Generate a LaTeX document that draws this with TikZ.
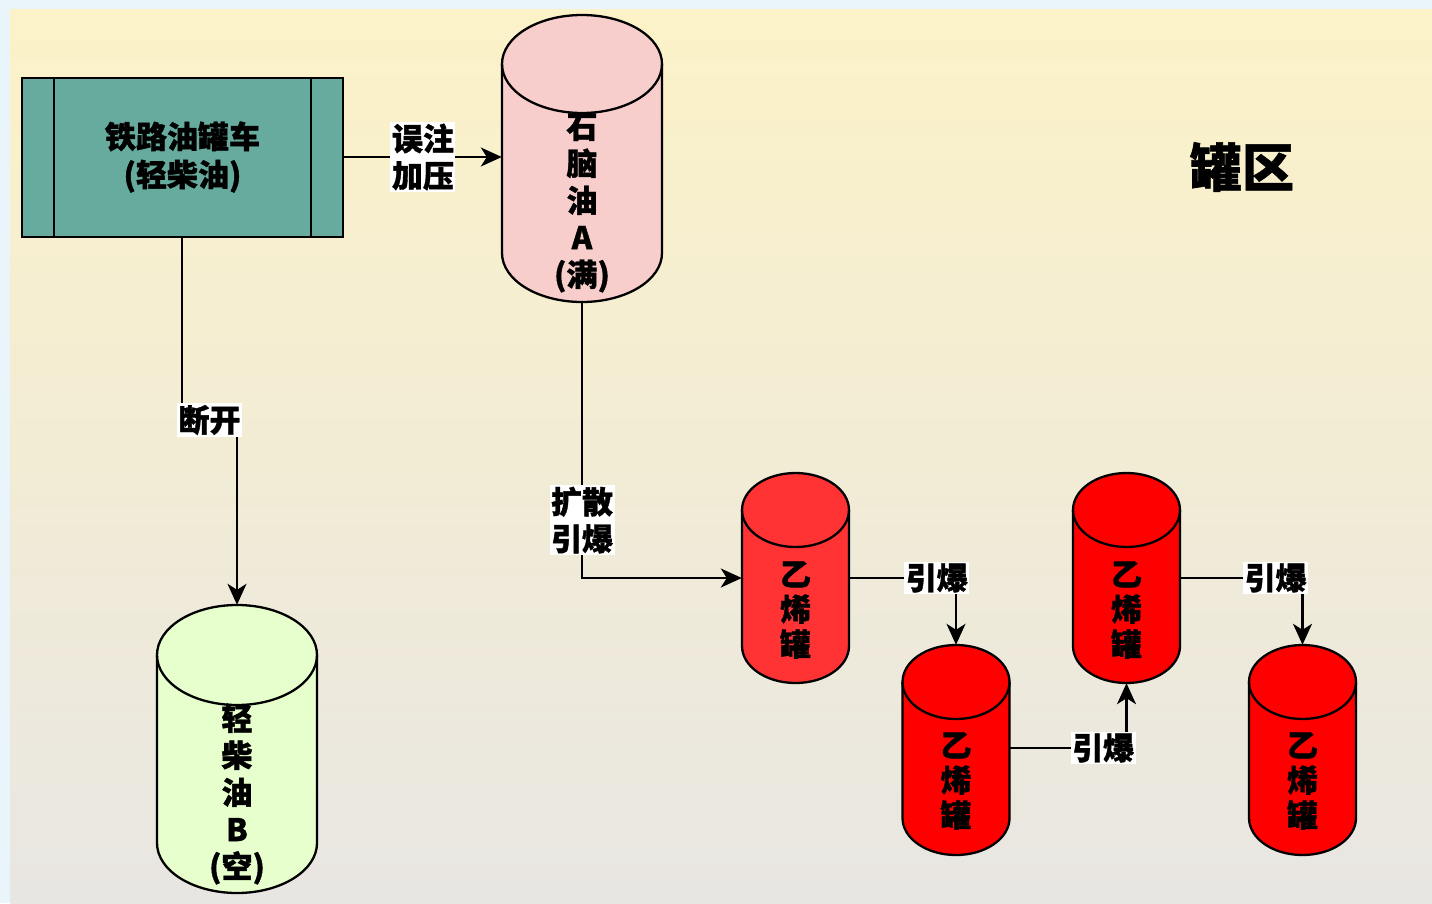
\documentclass[tikz,border=0pt]{standalone}
\usepackage{fontspec}
\usetikzlibrary{arrows.meta}
\newfontfamily\cjk{Noto Sans CJK SC}[BoldFeatures={FakeBold=1.2}]
\definecolor{bgblue}{HTML}{EAF4FB}
\definecolor{bgtop}{HTML}{FCF2C8}
\definecolor{bgbot}{HTML}{E8E6E2}
\definecolor{teal}{HTML}{67AB9F}
\definecolor{pinkA}{HTML}{F8CECC}
\definecolor{greenB}{HTML}{E6FFCC}
\definecolor{redlight}{HTML}{FF3333}
\definecolor{redfull}{HTML}{FF0000}
\newcommand\drawtank[7]{%
  \path[draw=black, line width=2.3pt, fill=#7]
    (#2-#5, -#3-#6) -- (#2-#5, -#4+#6)
    arc[start angle=180, end angle=360, x radius=#5, y radius=#6]
    -- (#2+#5, -#3-#6)
    arc[start angle=0, end angle=180, x radius=#5, y radius=#6] -- cycle;
  \draw[line width=2.3pt] (#2-#5, -#3-#6)
    arc[start angle=180, end angle=360, x radius=#5, y radius=#6];
  \node[inner sep=0pt, minimum width=2*#5, minimum height=#4-#3] (#1) at (#2, -#3/2-#4/2) {};
}
\tikzset{
  txt/.style={font=\cjk\bfseries\fontsize{31}{37}\selectfont, align=center, inner sep=0pt, text=black},
  tanktxt/.style={txt},
  lbl/.style={txt, fill=white, inner sep=1.5pt},
  conn/.style={line width=2.2pt, draw=black},
  arr/.style={conn, -{Stealth[length=21pt, width=19pt, inset=6pt]}},
}
\begin{document}
\begin{tikzpicture}[x=1pt, y=1pt]
\useasboundingbox (0,0) rectangle (1432,-903);
\fill[bgblue] (0,0) rectangle (1432,-903);
\shade[top color=bgtop, bottom color=bgbot] (10,-9) rectangle (1432,-903);

% railway car
\node[draw=black, line width=2.3pt, fill=teal, minimum width=321pt, minimum height=159pt, inner sep=0pt] (car) at (182.5,-157.5) {};
\draw[line width=2.3pt] ([xshift=33pt]car.north west) -- ([xshift=33pt]car.south west);
\draw[line width=2.3pt] ([xshift=-33pt]car.north east) -- ([xshift=-33pt]car.south east);
\node[txt, font=\cjk\bfseries\fontsize{31}{38}\selectfont] (cartxt) at (182.5,-157) {铁路油罐车\\(轻柴油)};

% tanks
\drawtank{A}{582}{15}{302}{80}{49}{pinkA}
\node[tanktxt] (Atxt) at (582,-203) {石\\脑\\油\\A\\(满)};
\drawtank{B}{237}{605}{893}{80}{50}{greenB}
\node[tanktxt] (Btxt) at (237,-794) {轻\\柴\\油\\B\\(空)};
\drawtank{E1}{795.5}{473}{683}{53.5}{37}{redlight}
\node[tanktxt, font=\cjk\bfseries\fontsize{31}{35}\selectfont] (E1txt) at (795.5,-610) {乙\\烯\\罐};
\drawtank{E2}{956}{645}{855}{53.5}{37}{redfull}
\node[tanktxt, font=\cjk\bfseries\fontsize{31}{35}\selectfont] (E2txt) at (956,-781) {乙\\烯\\罐};
\drawtank{E3}{1126.5}{473}{683}{53.5}{37}{redfull}
\node[tanktxt, font=\cjk\bfseries\fontsize{31}{35}\selectfont] (E3txt) at (1126.5,-610) {乙\\烯\\罐};
\drawtank{E4}{1302.5}{645}{855}{53.5}{37}{redfull}
\node[tanktxt, font=\cjk\bfseries\fontsize{31}{35}\selectfont] (E4txt) at (1302.5,-781) {乙\\烯\\罐};

% title
\node[txt, font=\cjk\bfseries\fontsize{52}{60}\selectfont] (title) at (1242,-167) {罐区};

% connectors
\draw[arr] (car.east |- 0,-157) -- node[lbl, pos=0.5]{误注\\加压} (A.west |- 0,-157);
\coordinate (k1) at (182,-420);
\draw[arr] (car.south -| k1) -- (k1) -- node[lbl]{断开} (k1 -| B.north) -- (B.north);
\draw[arr] (A.south) |- node[lbl, pos=0.395]{扩散\\引爆} (E1.west |- 0,-578);
\draw[arr] (E1.east |- 0,-578) -| node[lbl, pos=0.41]{引爆} (E2.north);
\draw[arr] (E2.east |- 0,-748) -| node[lbl, pos=0.4]{引爆} (E3.south);
\draw[arr] (E3.east |- 0,-578) -| node[lbl, pos=0.39]{引爆} (E4.north);
\end{tikzpicture}
\end{document}
